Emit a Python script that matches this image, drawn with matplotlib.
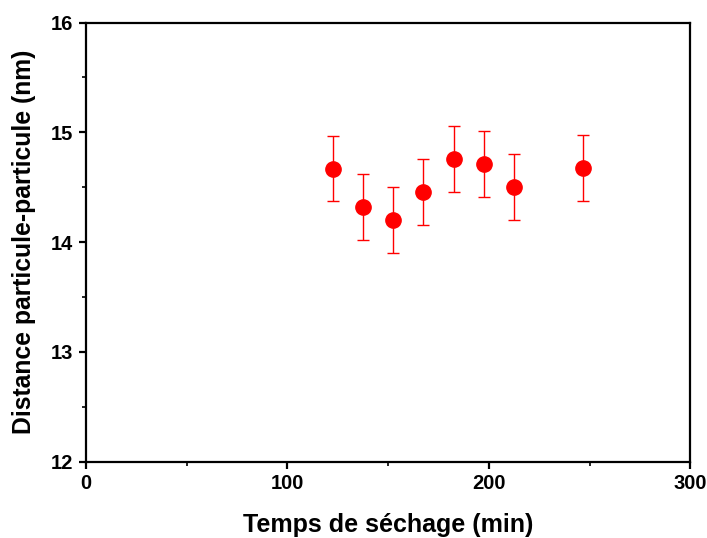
import matplotlib
matplotlib.use("Agg")
import matplotlib.pyplot as plt
from matplotlib.ticker import MultipleLocator

plt.rcParams['font.family'] = ['Liberation Sans', 'DejaVu Sans']
plt.rcParams['font.weight'] = 'bold'

temps = [122.5, 137.5, 152.5, 167.5, 182.5, 197.5, 212.5, 246.5]
distance = [14.67, 14.32, 14.20, 14.455, 14.755, 14.71, 14.505, 14.675]
erreur = [0.30, 0.30, 0.30, 0.30, 0.30, 0.30, 0.30, 0.30]

fig = plt.figure(figsize=(7.07, 5.38), dpi=100)
ax = fig.add_axes([0.1216, 0.142, 0.855, 0.816])

ax.errorbar(temps, distance, yerr=erreur, fmt='o', color='red', ecolor='red',
            markersize=11, elinewidth=1.0, capsize=4.5, capthick=1.0)

ax.set_xlim(0, 300)
ax.set_ylim(12, 16)
ax.xaxis.set_major_locator(MultipleLocator(100))
ax.xaxis.set_minor_locator(MultipleLocator(50))
ax.yaxis.set_major_locator(MultipleLocator(1))
ax.yaxis.set_minor_locator(MultipleLocator(0.5))

for s in ax.spines.values():
    s.set_linewidth(1.6)
ax.tick_params(which='major', direction='out', length=5, width=1.6, labelsize=14.5, pad=4)
ax.tick_params(which='minor', direction='out', length=3, width=1.2)
for lab in ax.get_xticklabels() + ax.get_yticklabels():
    lab.set_fontweight('bold')

ax.set_xlabel('Temps de séchage (min)', fontsize=18, fontweight='bold', labelpad=14)
ax.set_ylabel('Distance particule-particule (nm)', fontsize=17.8, fontweight='bold', labelpad=11)

fig.savefig('out.png', dpi=100)
